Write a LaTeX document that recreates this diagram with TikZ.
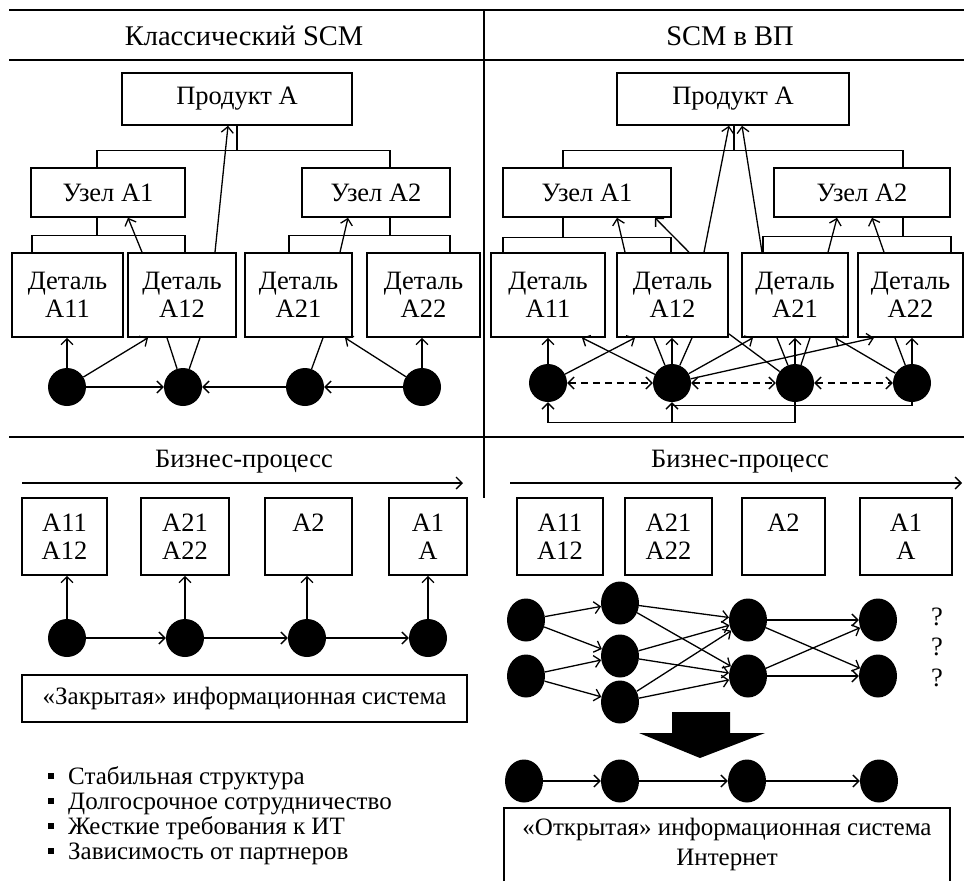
\documentclass[tikz,border=0pt]{standalone}
\usepackage{fontspec}
\setmainfont{Liberation Serif}
\usetikzlibrary{arrows.meta,shapes.geometric}
\begin{document}
\begin{tikzpicture}[x=1pt,y=-1pt,
  font=\fontsize{26.5}{28}\selectfont,
  box/.style={draw, line width=1.6pt, inner sep=0pt, align=center},
  dot/.style={circle, fill=black, inner sep=0pt, minimum size=38pt},
  edot/.style={ellipse, fill=black, inner sep=0pt, minimum width=38pt, minimum height=43pt},
  wire/.style={line width=1.3pt},
  arr/.style={wire, -{Straight Barb[length=6pt,width=12pt]}},
  darr/.style={wire, dash pattern=on 7pt off 5pt,
    {Straight Barb[length=6pt,width=12pt]}-{Straight Barb[length=6pt,width=12pt]}},
  frame/.style={line width=2.4pt},
  head/.style={font=\fontsize{28.5}{30}\selectfont},
  wide/.style={font=\fontsize{25}{30}\selectfont},
  item/.style={anchor=base west, inner sep=0pt, font=\fontsize{25}{26}\selectfont},
]
\useasboundingbox (0,0) rectangle (964,881);

% ---------- frame ----------
\coordinate (fTL) at (9,10);   \coordinate (fTR) at (964,10);
\coordinate (fHL) at (9,60);   \coordinate (fHR) at (964,60);
\coordinate (fML) at (9,437);  \coordinate (fMR) at (964,437);
\coordinate (fVT) at (484,10); \coordinate (fVB) at (484,498);
\draw[frame] (fTL) -- (fTR);
\draw[frame] (fHL) -- (fHR);
\draw[frame] (fML) -- (fMR);
\draw[frame] (fVT) -- (fVB);

\node[head] (tL) at (244,36) {Классический SCM};
\node[head] (tR) at (730,36) {SCM в ВП};

% ---------- classic SCM: structure ----------
\node[box, minimum width=230, minimum height=52] (pAL) at (237,99) {Продукт А};
\node[box, minimum width=154, minimum height=49] (u1L) at (108,192.5) {Узел A1};
\node[box, minimum width=148, minimum height=49] (u2L) at (376,192.5) {Узел A2};
\node[box, minimum width=111, minimum height=84] (d11L) at (67.5,295) {Деталь\\A11};
\node[box, minimum width=108, minimum height=84] (d12L) at (182,295) {Деталь\\A12};
\node[box, minimum width=107, minimum height=84] (d21L) at (298.5,295) {Деталь\\A21};
\node[box, minimum width=113, minimum height=84] (d22L) at (423.5,295) {Деталь\\A22};

\draw[wire] (pAL.south) -- ++(0,25) coordinate (jL0);
\draw[wire] ([xshift=-11pt]u1L.north) |- (jL0) -| ([xshift=14pt]u2L.north);
\draw[wire] ([xshift=-11pt]u1L.south) -- ++(0,18) coordinate (jL1);
\draw[wire] ([xshift=-35.5pt]d11L.north) |- (jL1) -| ([xshift=3pt]d12L.north);
\draw[wire] ([xshift=14pt]u2L.south) -- ++(0,18) coordinate (jL2);
\draw[wire] ([xshift=-9.5pt]d21L.north) |- (jL2) -| ([xshift=26.5pt]d22L.north);

\draw[arr] ([xshift=-40pt]d12L.north) -- ([xshift=20pt]u1L.south);
\draw[arr] ([xshift=33pt]d12L.north) -- ([xshift=-9pt]pAL.south);
\draw[arr] ([xshift=41.5pt]d21L.north) -- ([xshift=-28pt]u2L.south);

\node[dot] (p1L) at (67,387) {};
\node[dot] (p2L) at (183,387) {};
\node[dot] (p3L) at (305,387) {};
\node[dot] (p4L) at (422,387) {};

\draw[arr] (p1L) -- (p1L |- d11L.south);
\draw[arr] (p1L) -- ([xshift=-34pt]d12L.south);
\draw[arr] (p1L) -- (p2L);
\draw[wire] (p2L) -- ([xshift=-15pt]d12L.south);
\draw[wire] (p2L) -- ([xshift=18pt]d12L.south);
\draw[arr] (p3L) -- (p2L);
\draw[wire] (p3L) -- ([xshift=24.5pt]d21L.south);
\draw[arr] (p4L) -- (p3L);
\draw[arr] (p4L) -- (p4L |- d22L.south);
\draw[arr] (p4L) -- ([xshift=46.5pt]d21L.south);

% ---------- SCM in VE: structure ----------
\node[box, minimum width=232, minimum height=52] (pAR) at (733,99) {Продукт А};
\node[box, minimum width=168, minimum height=49] (u1R) at (587,192.5) {Узел A1};
\node[box, minimum width=176, minimum height=49] (u2R) at (862,192.5) {Узел A2};
\node[box, minimum width=114, minimum height=84] (d11R) at (548,295) {Деталь\\A11};
\node[box, minimum width=111, minimum height=84] (d12R) at (672.5,295) {Деталь\\A12};
\node[box, minimum width=106, minimum height=84] (d21R) at (795,295) {Деталь\\A21};
\node[box, minimum width=105, minimum height=84] (d22R) at (910.5,295) {Деталь\\A22};

\draw[wire] ([xshift=1pt]pAR.south) -- ++(0,25) coordinate (jR0);
\draw[wire] ([xshift=-24pt]u1R.north) |- (jR0) -| ([xshift=41pt]u2R.north);
\draw[wire] ([xshift=-24pt]u1R.south) -- ++(0,20) coordinate (jR1);
\draw[wire] ([xshift=-45pt]d11R.north) |- (jR1) -| ([xshift=-1.5pt]d12R.north);
\draw[wire] ([xshift=41pt]u2R.south) -- ++(0,19) coordinate (jR2);
\draw[wire] ([xshift=-32pt]d21R.north) |- (jR2) -| ([xshift=40.5pt]d22R.north);

\draw[arr] ([xshift=-47.5pt]d12R.north) -- ([xshift=30pt]u1R.south);
\draw[arr] ([xshift=16.5pt]d12R.north) -- ([xshift=68pt]u1R.south);
\draw[arr] ([xshift=31.5pt]d12R.north) -- ([xshift=-4pt]pAR.south);
\draw[arr] ([xshift=-33pt]d21R.north) -- ([xshift=9pt]pAR.south);
\draw[arr] ([xshift=33pt]d21R.north) -- ([xshift=-25pt]u2R.south);
\draw[arr] ([xshift=-26.5pt]d22R.north) -- ([xshift=10pt]u2R.south);

\node[dot] (p1R) at (548,383) {};
\node[dot] (p2R) at (672,383) {};
\node[dot] (p3R) at (795,383) {};
\node[dot] (p4R) at (912,383) {};

\draw[arr] (p1R) -- (p1R |- d11R.south);
\draw[arr] (p1R) -- ([xshift=-37.5pt]d12R.south);
\draw[arr] (p2R) -- ([xshift=34pt]d11R.south);
\draw[wire] (p2R) -- ([xshift=-18.5pt]d12R.south);
\draw[arr] (p2R) -- (p2R |- d12R.south);
\draw[wire] (p2R) -- ([xshift=19.5pt]d12R.south);
\draw[arr] (p2R) -- ([xshift=-42pt]d21R.south);
\draw[arr] (p2R) -- ([xshift=-36.5pt]d22R.south);
\draw[wire] (p3R) -- ([yshift=4pt]d12R.south east);
\draw[wire] (p3R) -- ([xshift=-18pt]d21R.south);
\draw[arr] (p3R) -- (p3R |- d21R.south);
\draw[wire] (p3R) -- ([xshift=15pt]d21R.south);
\draw[arr] (p4R) -- ([xshift=40pt]d21R.south);
\draw[wire] (p4R) -- ([xshift=-15.5pt]d22R.south);
\draw[arr] (p4R) -- (p4R |- d22R.south);

\draw[darr] (p1R) -- (p2R);
\draw[darr] (p2R) -- (p3R);
\draw[darr] (p3R) -- (p4R);

\draw[arr] (p3R.south) -- ++(0,20) coordinate (lp) -| (p1R.south);
\draw[arr] (p2R |- lp) -- (p2R.south);
\draw[wire] (p4R.south) |- ([yshift=-3pt]p2R.south);

% ---------- classic SCM: business process ----------
\node (bpL) at (244,462) {Бизнес-процесс};
\coordinate (aL0) at (22,483); \coordinate (aL1) at (463,483);
\draw[arr] (aL0) -- (aL1);

\node[box, minimum width=85, minimum height=77] (b1L) at (64.5,536.5) {A11\\A12};
\node[box, minimum width=88, minimum height=77] (b2L) at (185,536.5) {A21\\A22};
\node[box, minimum width=87, minimum height=77] (b3L) at (308.5,536.5) {A2\\\phantom{A}};
\node[box, minimum width=78, minimum height=77] (b4L) at (428,536.5) {A1\\A};

\node[dot] (q1L) at (67,638) {};
\node[dot] (q2L) at (185,638) {};
\node[dot] (q3L) at (307,638) {};
\node[dot] (q4L) at (428,638) {};
\foreach \i in {1,...,4} {\draw[arr] (q\i L) -- (q\i L |- b\i L.south);}
\draw[arr] (q1L) -- (q2L);
\draw[arr] (q2L) -- (q3L);
\draw[arr] (q3L) -- (q4L);

\node[box, wide, minimum width=445, minimum height=47] (cisL) at (244.5,698.5) {«Закрытая» информационная система};

\node[item] (li1) at (48,784) {\rule[5pt]{6pt}{6pt}\hspace{14pt}Стабильная структура};
\node[item] (li2) at (48,809) {\rule[5pt]{6pt}{6pt}\hspace{14pt}Долгосрочное сотрудничество};
\node[item] (li3) at (48,834) {\rule[5pt]{6pt}{6pt}\hspace{14pt}Жесткие требования к ИТ};
\node[item] (li4) at (48,859) {\rule[5pt]{6pt}{6pt}\hspace{14pt}Зависимость от партнеров};

% ---------- SCM in VE: business process ----------
\node (bpR) at (740,462) {Бизнес-процесс};
\coordinate (aR0) at (510,483); \coordinate (aR1) at (962,483);
\draw[arr] (aR0) -- (aR1);

\node[box, minimum width=86, minimum height=77] (b1R) at (560,536.5) {A11\\A12};
\node[box, minimum width=87, minimum height=77] (b2R) at (668.5,536.5) {A21\\A22};
\node[box, minimum width=83, minimum height=77] (b3R) at (783.5,536.5) {A2\\\phantom{A}};
\node[box, minimum width=92, minimum height=77] (b4R) at (906,536.5) {A1\\A};

\node[edot] (n1) at (526,620) {};
\node[edot] (n2) at (526,676) {};
\node[edot] (m1) at (620,603) {};
\node[edot] (m2) at (620,656) {};
\node[edot] (m3) at (620,702) {};
\node[edot] (r1) at (748,620) {};
\node[edot] (r2) at (748,676) {};
\node[edot] (e1) at (878,620) {};
\node[edot] (e2) at (878,676) {};

\draw[arr] (n1) -- (m1);
\draw[arr] (n1) -- (m2);
\draw[arr] (n2) -- (m2);
\draw[arr] (n2) -- (m3);
\foreach \a in {m1,m2,m3} {\draw[arr] (\a) -- (r1); \draw[arr] (\a) -- (r2);}
\foreach \a in {r1,r2} {\draw[arr] (\a) -- (e1); \draw[arr] (\a) -- (e2);}

\node (qm1) at (937,617) {?};
\node (qm2) at (937,647) {?};
\node (qm3) at (937,678) {?};

\fill (672,712) -- (730,712) -- (730,733) -- (765,733) -- (700,758) -- (639,733) -- (672,733) -- cycle;

\node[edot] (s1) at (524,781) {};
\node[edot] (s2) at (620,781) {};
\node[edot] (s3) at (747,781) {};
\node[edot] (s4) at (879,781) {};
\draw[arr] (s1) -- (s2);
\draw[arr] (s2) -- (s3);
\draw[arr] (s3) -- (s4);

\node[wide, align=center, minimum width=446, minimum height=73, inner sep=0pt] (oisR) at (727,844.5)
  {«Открытая» информационная система\\Интернет};
\draw[box] (oisR.south west) -- (oisR.north west) -- (oisR.north east) -- (oisR.south east);
\end{tikzpicture}
\end{document}
